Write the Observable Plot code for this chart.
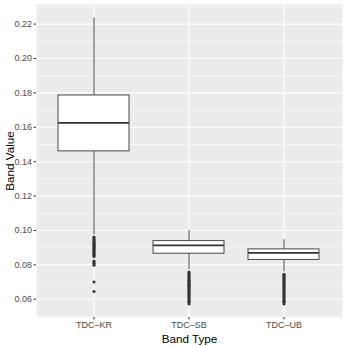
<!DOCTYPE html>
<html>
<head>
<meta charset="utf-8">
<script src="https://cdn.jsdelivr.net/npm/d3@7"></script>
<script src="https://cdn.jsdelivr.net/npm/@observablehq/plot@0.6"></script>
<style>
  html, body { margin: 0; padding: 0; background: #ffffff; }
  #chart { width: 346px; height: 346px; }
</style>
</head>
<body>
<div id="chart"></div>
<script>
// ---- data ----
const categories = ["TDC\u2013KR", "TDC\u2013SB", "TDC\u2013UB"];
const whiskerLow  = [0.0975, 0.0772, 0.0760];
const q1          = [0.1460, 0.0865, 0.0829];
const median      = [0.1626, 0.0913, 0.0870];
const q3          = [0.1785, 0.0938, 0.0890];
const whiskerHigh = [0.2235, 0.1000, 0.0946];

const krOutliers = [0.0962, 0.0956, 0.0950, 0.0944, 0.0938, 0.0932, 0.0926, 0.0920, 0.0914,
  0.0908, 0.0902, 0.0896, 0.0890, 0.0884, 0.0878, 0.0872, 0.0866, 0.0860, 0.0855, 0.0849,
  0.0823, 0.0817, 0.0811, 0.0805, 0.0798, 0.0700, 0.0645];
const sbOutliers = [0.0759, 0.0753, 0.0747, 0.0741, 0.0735, 0.0729, 0.0723, 0.0717, 0.0711,
  0.0705, 0.0699, 0.0693, 0.0687, 0.0681, 0.0675, 0.0669, 0.0663, 0.0657, 0.0651, 0.0645,
  0.0639, 0.0633, 0.0627, 0.0621, 0.0615, 0.0609, 0.0603, 0.0597, 0.0588, 0.0582, 0.0573];
const ubOutliers = [0.0745, 0.0739, 0.0733, 0.0727, 0.0721, 0.0715, 0.0709, 0.0703, 0.0697,
  0.0691, 0.0685, 0.0679, 0.0673, 0.0667, 0.0661, 0.0655, 0.0649, 0.0643, 0.0637, 0.0631,
  0.0625, 0.0619, 0.0613, 0.0607, 0.0601, 0.0595, 0.0589, 0.0582, 0.0573];

const majorTicks = [0.06, 0.08, 0.10, 0.12, 0.14, 0.16, 0.18, 0.20, 0.22];
const minorTicks = [0.05, 0.07, 0.09, 0.11, 0.13, 0.15, 0.17, 0.19, 0.21, 0.23];

// ---- tables built from the arrays ----
const stats = categories.map((c, i) => ({
  cat: c, lo: whiskerLow[i], q1: q1[i], med: median[i], q3: q3[i], hi: whiskerHigh[i]
}));
const outliers = [
  ...krOutliers.map(v => ({cat: categories[0], v})),
  ...sbOutliers.map(v => ({cat: categories[1], v})),
  ...ubOutliers.map(v => ({cat: categories[2], v}))
];

const font = "Liberation Sans, Arial, Helvetica, sans-serif";
const chart = Plot.plot({
  width: 346,
  height: 346,
  marginLeft: 36,
  marginRight: 4,
  marginTop: 4,
  marginBottom: 29,
  style: {fontFamily: font, background: "#ffffff"},
  x: {type: "band", domain: categories, paddingInner: 0.25, paddingOuter: 0.225},
  y: {domain: [0.0494, 0.2314]},
  marks: [
    Plot.frame({fill: "#EBEBEB", stroke: null}),
    Plot.ruleY(minorTicks.filter(d => d > 0.0494 && d < 0.2314), {stroke: "#ffffff", strokeWidth: 0.55}),
    Plot.ruleY(majorTicks, {stroke: "#ffffff", strokeWidth: 1.1}),
    Plot.ruleX(categories, {x: d => d, stroke: "#ffffff", strokeWidth: 1.1}),
    Plot.ruleX(stats, {x: "cat", y1: "lo", y2: "q1", stroke: "#333333", strokeWidth: 0.9}),
    Plot.ruleX(stats, {x: "cat", y1: "q3", y2: "hi", stroke: "#333333", strokeWidth: 0.9}),
    Plot.barY(stats, {x: "cat", y1: "q1", y2: "q3", fill: "#ffffff", stroke: "#333333", strokeWidth: 0.9}),
    Plot.tickY(stats, {x: "cat", y: "med", stroke: "#333333", strokeWidth: 1.7}),
    Plot.dot(outliers, {x: "cat", y: "v", r: 1.5, fill: "#333333", stroke: null}),
    Plot.axisY({
      ticks: majorTicks, tickSize: 2.5, tickPadding: 2, tickFormat: d => d.toFixed(2),
      fontSize: 9, color: "#4D4D4D", stroke: "#333333",
      label: null
    }),
    Plot.axisX({
      tickSize: 2.5, tickPadding: 2, fontSize: 9, color: "#4D4D4D", stroke: "#333333",
      label: null
    }),
    Plot.axisY({ticks: [], label: "Band Value", labelAnchor: "center", labelArrow: "none",
      labelOffset: 31, fontSize: 11.7, color: "#000000", tickSize: 0}),
    Plot.axisX({ticks: [], label: "Band Type", labelAnchor: "center", labelArrow: "none",
      labelOffset: 25, fontSize: 11.7, color: "#000000", tickSize: 0})
  ]
});
document.getElementById("chart").appendChild(chart);
</script>
</body>
</html>
